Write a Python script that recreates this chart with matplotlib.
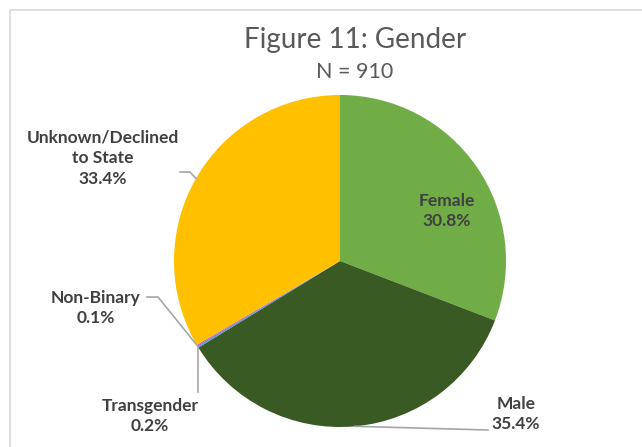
import numpy as np
import matplotlib
matplotlib.use("Agg")
import matplotlib.pyplot as plt
from matplotlib.patches import Rectangle

plt.rcParams["font.family"] = ["Lato", "DejaVu Sans"]

# data
genders = ["Female", "Male", "Transgender", "Non-Binary", "Unknown/Declined\nto State"]
shares = [30.8, 35.4, 0.2, 0.1, 33.4]
pct_labels = ["30.8%", "35.4%", "0.2%", "0.1%", "33.4%"]
colors = ["#70AD47", "#3A5A23", "#5B9BD5", "#E040C0", "#FFC000"]

W, H = 642, 447
fig = plt.figure(figsize=(W / 100, H / 100), dpi=100)
ax = fig.add_axes([0, 0, 1, 1])

# chart frame (cut off on right/bottom like the screenshot)
ax.add_patch(Rectangle((10, -20), 700, H - 10 + 20, fill=False,
                       edgecolor="#D9D9D9", linewidth=1.2))

cx, cy, r = 340, 186, 166
wedges, _ = ax.pie(shares, colors=colors, startangle=90, counterclock=False,
                   center=(cx, cy), radius=r, frame=True,
                   wedgeprops=dict(linewidth=0))
ax.set_xlim(0, W)
ax.set_ylim(0, H)
ax.set_aspect("equal")
ax.axis("off")

ax.text(355, H - 40, "Figure 11: Gender", ha="center", va="center",
        fontsize=20, color="#595959")
ax.text(355, H - 72, "N = 910", ha="center", va="center",
        fontsize=15.5, color="#595959")

txt = dict(ha="center", va="center", multialignment="center", fontsize=12.5,
           fontweight="bold", color="#404040", linespacing=1.35)
line = dict(color="#A6A6A6", linewidth=1.2)

def anchor(i):
    w = wedges[i]
    a = np.deg2rad((w.theta1 + w.theta2) / 2)
    return cx + r * np.cos(a), cy + r * np.sin(a)

# Female - inside
ax.text(447, H - 211, genders[0] + "\n" + pct_labels[0], **txt)

# Male
ax.text(516, H - 414, genders[1] + "\n" + pct_labels[1], **txt)
x0, y0 = anchor(1)
ax.plot([x0, 488], [y0, H - 430], **line)

# Transgender
ax.text(150, H - 416, genders[2] + "\n" + pct_labels[2], **txt)
x0, y0 = anchor(2)
ax.plot([x0, x0], [y0, H - 392], **line)

# Non-Binary
ax.text(96, H - 308, genders[3] + "\n" + pct_labels[3], **txt)
x0, y0 = anchor(3)
ax.plot([147, 158, x0], [H - 297, H - 297, y0], **line)

# Unknown
ax.text(103, H - 158, genders[4] + "\n" + pct_labels[4], **txt)
x0, y0 = anchor(4)
ax.plot([180, 190, x0], [H - 172, H - 172, y0], **line)

fig.savefig("out.png", dpi=100)
